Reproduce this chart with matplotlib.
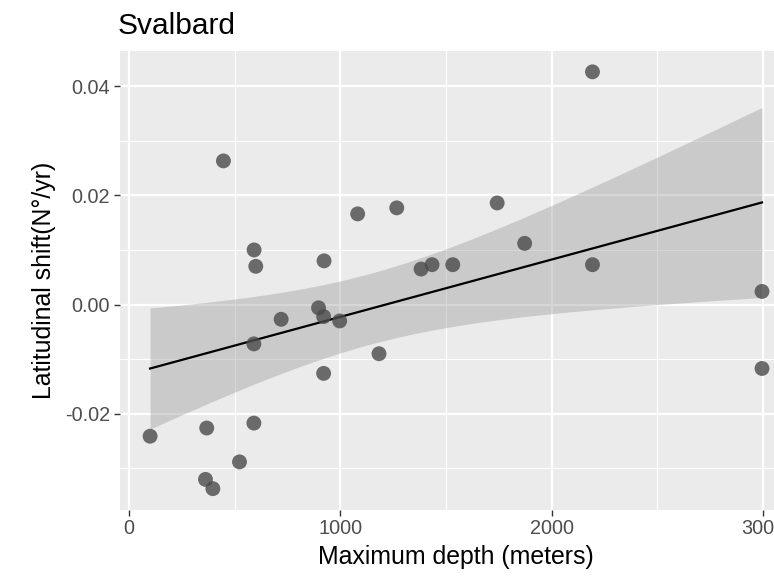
import numpy as np
import matplotlib
matplotlib.use("Agg")
import matplotlib.pyplot as plt
from matplotlib.ticker import FixedLocator, FuncFormatter

plt.rcParams['font.family'] = ['Liberation Sans', 'DejaVu Sans']
plt.rcParams['axes.unicode_minus'] = False

# Data
depth = [100, 368, 362, 397, 523, 591, 591, 447, 592, 600, 720, 897, 921, 997,
         923, 921, 1183, 1082, 1267, 1382, 1434, 1532, 1742, 1872, 2193, 2193,
         2995, 2995]
shift = [-0.0241, -0.0226, -0.0320, -0.0337, -0.0288, -0.0217, -0.0072, 0.0263,
         0.0100, 0.0070, -0.0027, -0.0006, -0.0022, -0.0030, 0.0080, -0.0126,
         -0.0090, 0.0166, 0.0177, 0.0065, 0.0073, 0.0073, 0.0186, 0.0112,
         0.0426, 0.0073, 0.0024, -0.0117]
x_ticks = [0, 1000, 2000, 3000]
y_ticks = [-0.02, 0.00, 0.02, 0.04]
title = "Svalbard"
x_label = "Maximum depth (meters)"
y_label = "Latitudinal shift(N°/yr)"

x = np.array(depth, dtype=float)
y = np.array(shift, dtype=float)

# Linear fit with 95% confidence band (like geom_smooth(method="lm"))
n = len(x)
b1, b0 = np.polyfit(x, y, 1)
resid = y - (b0 + b1 * x)
s = np.sqrt(np.sum(resid ** 2) / (n - 2))
xm = x.mean()
sxx = np.sum((x - xm) ** 2)
t_crit = 2.0555  # t(0.975, df=26)
xs = np.linspace(x.min(), x.max(), 80)
ys = b0 + b1 * xs
se = s * np.sqrt(1.0 / n + (xs - xm) ** 2 / sxx)
lo, hi = ys - t_crit * se, ys + t_crit * se

W, H = 774, 580
fig = plt.figure(figsize=(W / 100, H / 100), dpi=100)
ax = fig.add_axes([119.5 / W, 1 - 509.5 / H, (792.6 - 119.5) / W, (509.5 - 51) / H])
ax.set_facecolor('#EBEBEB')
for sp in ax.spines.values():
    sp.set_visible(False)

# scales with ggplot's 5% expansion
xr = x.max() - x.min()
yr = y.max() - y.min()
ax.set_xlim(x.min() - 0.05 * xr, x.max() + 0.05 * xr)
ax.set_ylim(y.min() - 0.05 * yr, y.max() + 0.05 * yr)

ax.xaxis.set_major_locator(FixedLocator(x_ticks))
ax.xaxis.set_minor_locator(FixedLocator([500, 1500, 2500]))
ax.yaxis.set_major_locator(FixedLocator(y_ticks))
ax.yaxis.set_minor_locator(FixedLocator([-0.03, -0.01, 0.01, 0.03]))
ax.yaxis.set_major_formatter(FuncFormatter(lambda v, p: f"{v:.2f}"))
ax.xaxis.set_major_formatter(FuncFormatter(lambda v, p: f"{int(round(v))}"))

ax.grid(which='major', color='white', linewidth=1.6)
ax.grid(which='minor', color='white', linewidth=0.8)
ax.set_axisbelow(True)
ax.tick_params(which='major', length=4, width=1.0, color='#333333',
               labelsize=14.3, labelcolor='#4D4D4D', pad=3)
ax.tick_params(which='minor', length=0)

ax.fill_between(xs, lo, hi, color='#999999', alpha=0.4, linewidth=0, zorder=2)
ax.plot(xs, ys, color='black', linewidth=1.6, zorder=3)
ax.scatter(x, y, s=115, color='#4A4A4A', alpha=0.8, edgecolors='none', zorder=4)

ax.set_xlabel(x_label, fontsize=17.9, color='black', labelpad=5)
ax.set_ylabel(y_label, fontsize=17.9, color='black', labelpad=6)

fig.text(118 / W, 1 - 34 / H, title, fontsize=21.5, color='black',
         ha='left', va='baseline')

fig.savefig('out.png', dpi=100)
